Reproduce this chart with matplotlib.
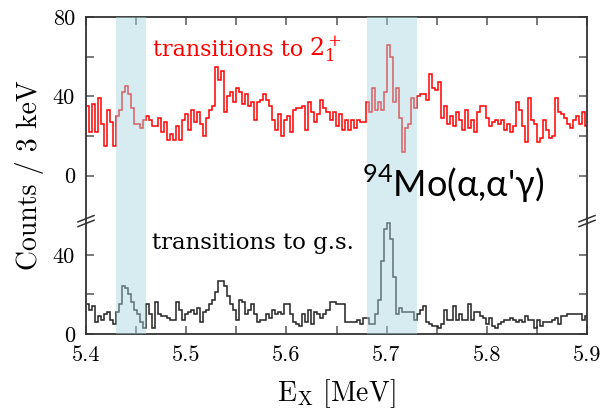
import numpy as np
import matplotlib.pyplot as plt

# 3 keV bins starting at 5.4 MeV
e_start = 5.4
bin_width = 0.003

# gamma-gated counts, transitions to the first 2+ state
counts_2plus = [
    35, 22, 36, 22, 39, 26, 15, 33, 27, 15,
    30, 33, 42, 45, 41, 34, 26, 26, 24, 28,
    30, 28, 25, 25, 29, 22, 27, 18, 21, 18,
    25, 18, 28, 31, 23, 33, 27, 32, 26, 20,
    29, 33, 35, 55, 48, 53, 32, 40, 42, 37,
    44, 42, 36, 41, 35, 37, 28, 37, 38, 41,
    38, 35, 28, 23, 31, 20, 28, 30, 22, 33,
    34, 34, 35, 23, 37, 32, 27, 31, 38, 34,
    32, 28, 32, 25, 31, 23, 28, 23, 28, 24,
    28, 27, 27, 37, 32, 44, 33, 37, 33, 42,
    66, 60, 37, 44, 29, 12, 24, 26, 39, 34,
    40, 41, 41, 38, 51, 44, 43, 47, 29, 35,
    26, 30, 25, 32, 28, 23, 33, 24, 28, 22,
    32, 35, 35, 29, 25, 27, 28, 26, 28, 23,
    26, 22, 25, 37, 33, 25, 17, 39, 28, 26,
    17, 19, 28, 23, 19, 20, 39, 32, 31, 29,
    26, 24, 28, 30, 26, 32, 25,
]

# gamma-gated counts, transitions to the ground state
counts_gs = [
    15, 12, 14, 6, 9, 7, 10, 11, 7, 5,
    11, 15, 24, 23, 20, 16, 12, 10, 6, 3,
    15, 10, 3, 16, 10, 9, 9, 8, 7, 7,
    16, 12, 7, 10, 11, 12, 10, 13, 6, 11,
    12, 15, 17, 21, 27, 27, 24, 19, 15, 12,
    7, 17, 16, 10, 12, 15, 10, 6, 7, 7,
    10, 8, 12, 10, 11, 10, 15, 15, 10, 6,
    5, 4, 10, 6, 12, 5, 11, 10, 8, 10,
    12, 16, 16, 15, 15, 15, 6, 6, 6, 6,
    7, 5, 8, 8, 5, 5, 10, 17, 37, 53,
    56, 48, 29, 10, 13, 11, 11, 11, 11, 7,
    10, 12, 14, 6, 5, 4, 4, 3, 5, 12,
    7, 7, 14, 7, 10, 7, 7, 15, 7, 11,
    11, 9, 8, 5, 8, 4, 3, 5, 6, 7,
    7, 8, 7, 6, 7, 6, 9, 7, 7, 3,
    7, 4, 6, 6, 6, 7, 8, 5, 9, 9,
    10, 10, 10, 10, 10, 7, 9,
]

# upper spectrum is shifted up by this much on the shared axis
offset = 80
windows = [(5.43, 5.46), (5.68, 5.73)]

ytick_pos = [0, 40, 80, 120, 160]
ytick_lab = ['0', '40', '0', '40', '80']
yminor_pos = [20, 100, 140]
xtick_pos = [5.4, 5.5, 5.6, 5.7, 5.8, 5.9]
break_y = 57

plt.rcParams['mathtext.fontset'] = 'cm'
plt.rcParams['mathtext.rm'] = 'Lato'

edges = e_start + bin_width * np.arange(len(counts_gs) + 1)

fig = plt.figure(figsize=(6.04, 4.13), dpi=100)
ax = fig.add_axes([0.1424, 0.1913, 0.8295, 0.7675])

ax.stairs(np.array(counts_2plus) + offset, edges, baseline=None,
          color='#ff0000', lw=1.1, zorder=2)
ax.stairs(counts_gs, edges, baseline=None, color='#222222', lw=1.1, zorder=2)

for lo, hi in windows:
    ax.axvspan(lo, hi, color='#a8d5de', alpha=0.45, lw=0, zorder=3)

ax.set_xlim(5.4, 5.9)
ax.set_ylim(0, 160)
ax.set_xticks(xtick_pos)
ax.set_xticklabels([f'{v:.1f}' for v in xtick_pos])
ax.set_xticks(np.arange(5.45, 5.9, 0.1), minor=True)
ax.set_yticks(ytick_pos)
ax.set_yticklabels(ytick_lab)
ax.set_yticks(yminor_pos, minor=True)
ax.tick_params(which='both', direction='in', length=6, width=1.1,
               top=True, right=True, color='#555555')
ax.tick_params(labelsize=16, labelfontfamily='cmr10', pad=8)
for s in ax.spines.values():
    s.set_linewidth(1.3)
    s.set_color('#333333')

ax.set_ylabel('Counts / 3 keV', fontfamily='cmr10', fontsize=20, labelpad=6)
ax.set_xlabel(r'$\mathrm{E_X}$ [MeV]', fontfamily='cmr10', fontsize=20, labelpad=9)

# axis break marks on both spines
tr = ax.get_yaxis_transform()
for x0 in (0, 1):
    for dy in (-1.2, 1.2):
        ax.plot([x0 - 0.016, x0 + 0.016], [break_y + dy - 1.6, break_y + dy + 1.6],
                transform=tr, color='#333333', lw=1.1, clip_on=False, zorder=5)

ax.text(5.4669, 140.4, 'transitions to', color='#ff0000',
        fontfamily='DejaVu Serif', fontsize=16, va='baseline', zorder=6)
ax.text(5.6230, 140.4, r'$2_1^+$', color='#ff0000', fontsize=17,
        math_fontfamily='dejavuserif', va='baseline', zorder=6)
ax.text(5.4659, 42.9, 'transitions to g.s.', color='black',
        fontfamily='DejaVu Serif', fontsize=16.5, va='baseline', zorder=6)
ax.text(5.6755, 69.2, r"$^{\mathrm{94}}$Mo(α,α'γ)", color='black',
        fontfamily=['Lato', 'Noto Sans'], fontsize=26, math_fontfamily='custom',
        va='baseline', zorder=6)

fig.savefig('out.png', dpi=100)
